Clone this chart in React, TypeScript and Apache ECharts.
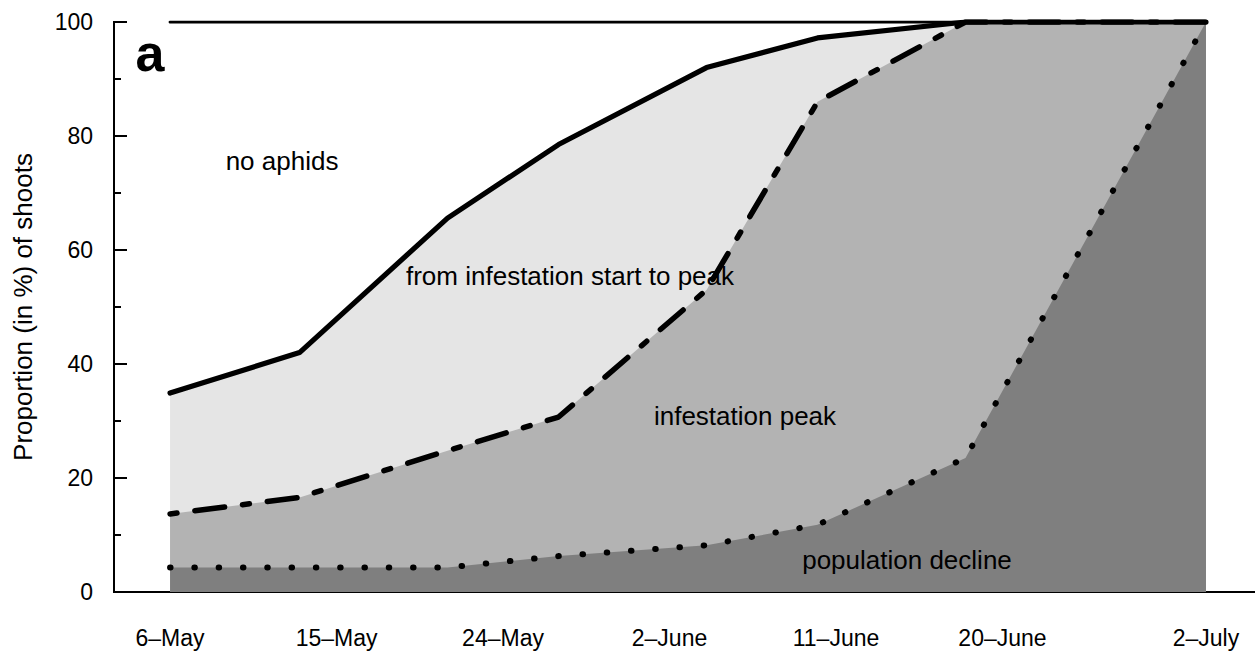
import React, { useEffect, useRef } from 'react';
import * as echarts from 'echarts';

// Sampling days (days after 6 May)
const sampleDays = [0, 7, 15, 21, 29, 35, 43, 56];
// Upper limit (100 %)
const totalPct = [100, 100, 100, 100, 100, 100, 100, 100];
// Solid line: shoots with aphids (boundary of "no aphids")
const infestedPct = [34.9, 42, 65.6, 78.5, 92, 97.2, 100, 100];
// Dashed line: shoots at peak or later
const peakPct = [13.7, 16.6, 24.8, 30.7, 53, 86, 100, 100];
// Dotted line: shoots in population decline
const declinePct = [4.3, 4.3, 4.3, 6.3, 8.2, 11.8, 23.5, 100];

const tickDays = [0, 9, 18, 27, 36, 45, 56];
const tickLabels = ['6–May', '15–May', '24–May', '2–June', '11–June', '20–June', '2–July'];

const regionLabels = ['no aphids', 'from infestation start to peak', 'infestation peak', 'population decline'];

const X_MIN = -3.03;
const X_MAX = 58.65;
const Y_MIN = 0;
const Y_MAX = 100;

const FONT = '"Liberation Sans", Arial, Helvetica, sans-serif';

const pairs = (ys: number[]) => sampleDays.map((d, i) => [d, ys[i]]);

export default function App() {
  const ref = useRef<HTMLDivElement>(null);
  useEffect(() => {
    document.body.style.margin = '0';
    if (!ref.current) return;
    const chart = echarts.init(ref.current, null, { renderer: 'svg' });
    const areaSeries = (ys: number[], color: string) => ({
      type: 'line',
      data: pairs(ys),
      symbol: 'none',
      lineStyle: { width: 0, color },
      areaStyle: { color, opacity: 1 },
      z: 2,
      silent: true,
    });
    const lineSeries = (ys: number[], width: number, dash: any, z: number) => ({
      type: 'line',
      data: pairs(ys),
      symbol: 'none',
      lineStyle: { width, color: '#000', type: dash, cap: 'round', join: 'round' },
      z,
      silent: true,
    });
    const textEl = (text: string, x: number, y: number, font: string) => ({
      type: 'text',
      x,
      y,
      z: 10,
      style: { text, font, fill: '#000', textAlign: 'center', textVerticalAlign: 'middle' },
    });
    chart.setOption({
      animation: false,
      backgroundColor: '#fff',
      grid: { left: 114, right: 0, top: 22, bottom: 63, containLabel: false },
      xAxis: {
        type: 'value',
        min: X_MIN,
        max: X_MAX,
        splitLine: { show: false },
        axisLine: { show: true, onZero: false, lineStyle: { color: '#000', width: 2 } },
        axisTick: { show: false },
        axisLabel: {
          customValues: tickDays,
          formatter: (v: number) => {
            const i = tickDays.indexOf(v);
            return i >= 0 ? tickLabels[i] : '';
          },
          color: '#000',
          fontSize: 23,
          fontFamily: FONT,
          margin: 34,
        },
      },
      yAxis: {
        type: 'value',
        position: 'left',
        min: Y_MIN,
        max: Y_MAX,
        interval: 20,
        splitLine: { show: false },
        axisLine: { show: true, onZero: false, lineStyle: { color: '#000', width: 2 } },
        axisTick: { show: true, inside: true, length: 13, lineStyle: { color: '#000', width: 2 } },
        minorTick: { show: true, splitNumber: 2, length: 7, lineStyle: { color: '#000', width: 2 } },
        axisLabel: { color: '#000', fontSize: 23, fontFamily: FONT, margin: 21 },
        name: 'Proportion (in %) of shoots',
        nameLocation: 'middle',
        nameGap: 78,
        nameTextStyle: { color: '#000', fontSize: 26, fontFamily: FONT },
      },
      series: [
        areaSeries(infestedPct, '#e5e5e5'),
        areaSeries(peakPct, '#b3b3b3'),
        areaSeries(declinePct, '#7f7f7f'),
        lineSeries(totalPct, 3, 'solid', 4),
        lineSeries(infestedPct, 5.2, 'solid', 5),
        lineSeries(peakPct, 5.5, [7, 18, 30, 18], 6),
        lineSeries(declinePct, 6, [0.5, 23.8], 7),
      ],
      graphic: [
        {
          type: 'rect',
          z: 20,
          left: 113,
          top: 21,
          shape: { width: 2, height: 572 },
          style: { fill: '#000' },
        },
        textEl('a', 150, 53, `bold 52px ${FONT}`),
        textEl(regionLabels[0], 282, 161, `26px ${FONT}`),
        textEl(regionLabels[1], 570, 276, `26px ${FONT}`),
        textEl(regionLabels[2], 745, 416, `26px ${FONT}`),
        textEl(regionLabels[3], 907, 560, `26px ${FONT}`),
      ],
    });
    return () => chart.dispose();
  }, []);
  return <div ref={ref} style={{ position: 'absolute', left: 0, top: 0, width: 1255, height: 655 }} />;
}
